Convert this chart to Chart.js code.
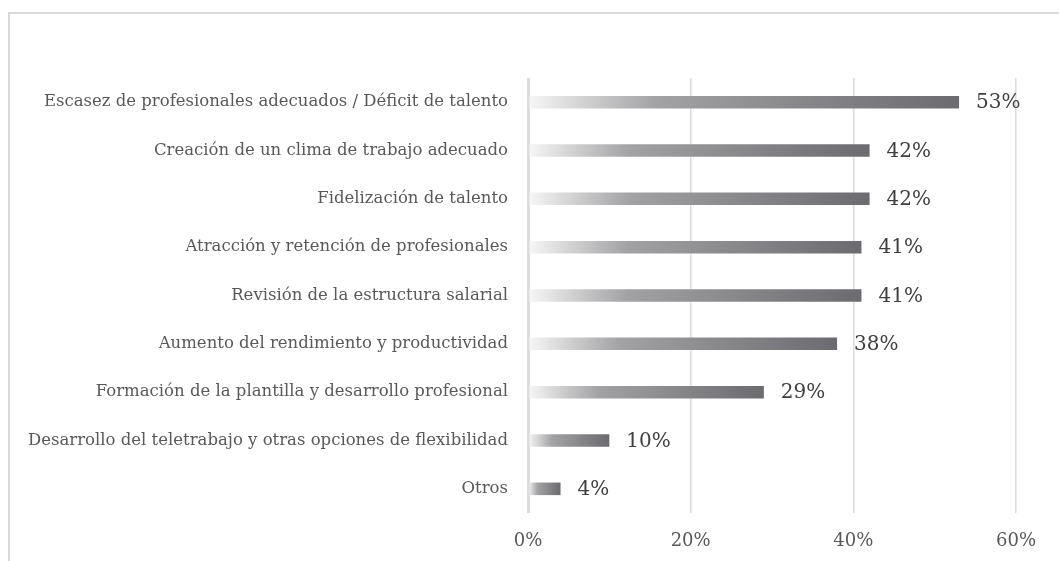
<!DOCTYPE html>
<html>
<head>
<meta charset="utf-8">
<script src="https://cdn.jsdelivr.net/npm/chart.js@4/dist/chart.umd.min.js"></script>
<style>
    html, body { margin: 0; padding: 0; background: #fff; }
    #wrap { position: relative; width: 1059px; height: 561px; overflow: hidden; }
    #frame { position: absolute; left: 8px; top: 12px; width: 1070px; height: 600px; border: 2px solid #d9d9d9; box-sizing: border-box; }
    #chart { position: absolute; left: 0; top: 0; }
</style>
</head>
<body>
<div id="wrap">
    <div id="frame"></div>
    <canvas id="chart" width="1059" height="561"></canvas>
</div>
<script>
var categories = [
    "Escasez de profesionales adecuados / Déficit de talento",
    "Creación de un clima de trabajo adecuado",
    "Fidelización de talento",
    "Atracción y retención de profesionales",
    "Revisión de la estructura salarial",
    "Aumento del rendimiento y productividad",
    "Formación de la plantilla y desarrollo profesional",
    "Desarrollo del teletrabajo y otras opciones de flexibilidad",
    "Otros"
];
var values = [53, 42, 42, 41, 41, 38, 29, 10, 4];
var tickValues = [0, 20, 40, 60];

var serif = "'DejaVu Serif', 'Liberation Serif', serif";

function barGradient(context) {
    var chart = context.chart;
    if (!chart.chartArea || !chart.scales.x) {
        return "#8a8a8e";
    }
    var x = chart.scales.x;
    var x0 = x.getPixelForValue(0);
    var x1 = x.getPixelForValue(values[context.dataIndex]);
    if (x1 - x0 < 1) {
        x1 = x0 + 1;
    }
    var g = chart.ctx.createLinearGradient(x0, 0, x1, 0);
    g.addColorStop(0, "#f7f7f7");
    g.addColorStop(0.22, "#b8b8ba");
    g.addColorStop(0.3, "#a2a2a4");
    g.addColorStop(1, "#6b6b70");
    return g;
}

var valueLabels = {
    id: "valueLabels",
    afterDatasetsDraw: function (chart) {
        var ctx = chart.ctx;
        var meta = chart.getDatasetMeta(0);
        ctx.save();
        ctx.font = "20px " + serif;
        ctx.fillStyle = "#404040";
        ctx.textAlign = "left";
        ctx.textBaseline = "middle";
        meta.data.forEach(function (bar, i) {
            ctx.fillText(values[i] + "%", bar.x + 17, bar.y + 1);
        });
        ctx.restore();
    }
};

new Chart(document.getElementById("chart").getContext("2d"), {
    type: "bar",
    data: {
        labels: categories,
        datasets: [{
            data: values,
            backgroundColor: barGradient,
            borderWidth: 0,
            barPercentage: 0.52,
            categoryPercentage: 0.5
        }]
    },
    plugins: [valueLabels],
    options: {
        indexAxis: "y",
        responsive: false,
        animation: false,
        layout: { padding: { top: 78, right: 43, bottom: 0, left: 0 } },
        plugins: {
            legend: { display: false },
            tooltip: { enabled: false }
        },
        scales: {
            x: {
                min: 0,
                max: 60,
                afterFit: function (scale) { scale.height = 48; },
                afterBuildTicks: function (scale) {
                    scale.ticks = tickValues.map(function (v) { return { value: v }; });
                },
                border: { display: false },
                grid: {
                    drawTicks: false,
                    color: "#dcdcdc",
                    lineWidth: function (ctx) { return ctx.tick && ctx.tick.value === 0 ? 3 : 1.5; }
                },
                ticks: {
                    padding: 18,
                    color: "#595959",
                    font: { family: serif, size: 18 },
                    callback: function (v) { return v + "%"; }
                }
            },
            y: {
                afterFit: function (scale) { scale.width = 528; },
                border: { display: false },
                grid: { display: false, drawTicks: false },
                ticks: {
                    padding: 20,
                    color: "#595959",
                    font: { family: serif, size: 16.5 }
                }
            }
        }
    }
});
</script>
</body>
</html>
